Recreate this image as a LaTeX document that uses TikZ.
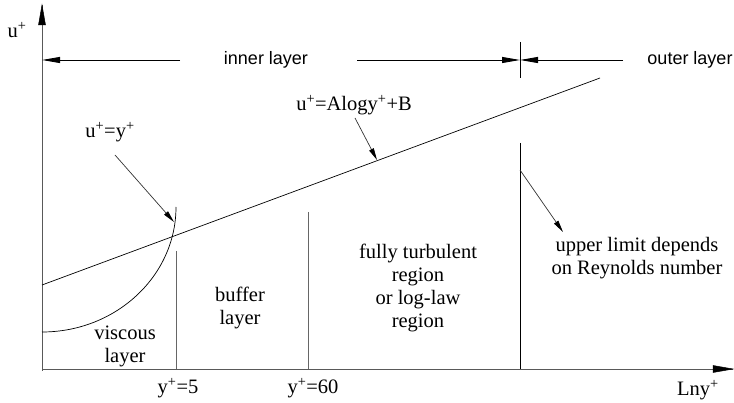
\documentclass[tikz,border=0pt]{standalone}
\usepackage{fontspec}
\setmainfont{Liberation Serif}
\newfontfamily\sansf{Liberation Sans}
\usetikzlibrary{arrows.meta}
\newcommand{\plusup}{\textsuperscript{+}}
\begin{document}
\begin{tikzpicture}[x=1pt,y=-1pt,
  axisline/.style={draw=black!65, line width=0.9pt},
  axishead/.style={fill=black, draw=black, line width=0.5pt},
  divline/.style={draw=black!60, line width=0.9pt},
  thinline/.style={draw=black, line width=0.7pt},
  layerarrow/.style={draw=black, line width=0.9pt, -{Triangle[length=18pt,width=6pt]}},
  pointer/.style={draw=black!80, line width=0.7pt, -{Triangle[length=12pt,width=5pt,color=black]}},
  serif/.style={font=\fontsize{20.5}{23}\selectfont, align=center, inner sep=0pt},
  sanslbl/.style={font=\sansf\fontsize{18}{21}\selectfont, inner sep=0pt}
]
\useasboundingbox (0,0) rectangle (734,403);
% axes
\coordinate (O) at (42,369);
\coordinate (ytop) at (42,5);
\coordinate (xend) at (733,369);
\draw[axisline] (42,371) -- (ytop);
\draw[axisline] (O) -- (xend);
\filldraw[axishead] (ytop) -- ++(-3.5,20) -- ++(7,0) -- cycle;
\filldraw[axishead] (xend) -- ++(-20,-3.5) -- ++(0,7) -- cycle;
\node[serif] (ulabel) at (17,30) {u\plusup};
\node[serif] (xlabel) at (698,390) {Lny\plusup};
% layer arrows
\node[sanslbl] (inner) at (266,60) {inner layer};
\node[sanslbl] (outer) at (690,60) {outer layer};
\coordinate (iL) at (42,60);
\coordinate (iLs) at (180,60);
\coordinate (iRs) at (357,60);
\coordinate (b) at (520,60);
\coordinate (oRs) at (623,60);
\draw[layerarrow] (iLs) -- (iL);
\draw[layerarrow] (iRs) -- (b);
\draw[layerarrow] (oRs) -- (b);
\coordinate (tickT) at (520,42);
\coordinate (tickB) at (520,78);
\draw[thinline] (tickT) -- (tickB);
% log law line
\coordinate (l0) at (42,285);
\coordinate (l1) at (600,78);
\draw[thinline] (l0) -- (l1);
% viscous curve
\coordinate (v0) at (42,332);
\coordinate (v1) at (176,207);
\draw[thinline] (v0) .. controls (116,332) and (176,276) .. (v1);
% dividing lines
\coordinate (d5t) at (176,251);
\coordinate (d5b) at (176,369);
\coordinate (d60t) at (308,212);
\coordinate (d60b) at (308,369);
\coordinate (dRt) at (520,143);
\coordinate (dRb) at (520,369);
\draw[divline] (d5t) -- (d5b);
\draw[divline] (d60t) -- (d60b);
\draw[thinline] (dRt) -- (dRb);
% labels and pointers
\node[serif] (uy) at (110,132) {u\plusup=y\plusup};
\coordinate (uyS) at (115,155);
\coordinate (uyE) at (174,222);
\draw[pointer] (uyS) -- (uyE);
\node[serif] (ulog) at (354,105) {u\plusup=Alogy\plusup+B};
\coordinate (ulS) at (355,118);
\coordinate (ulE) at (377,160);
\draw[pointer] (ulS) -- (ulE);
\coordinate (rS) at (520,170);
\coordinate (rE) at (563,232);
\draw[pointer] (rS) -- (rE);
\node[serif] (upper) at (637,258) {upper limit depends\\on Reynolds number};
\node[serif] (full) at (418,288) {fully turbulent\\region\\or log-law\\region};
\node[serif] (buffer) at (240,308) {buffer\\layer};
\node[serif] (visc) at (125,346) {viscous\\layer};
\node[serif] (y5) at (178,388) {y\plusup=5};
\node[serif] (y60) at (313,388) {y\plusup=60};
\end{tikzpicture}
\end{document}
